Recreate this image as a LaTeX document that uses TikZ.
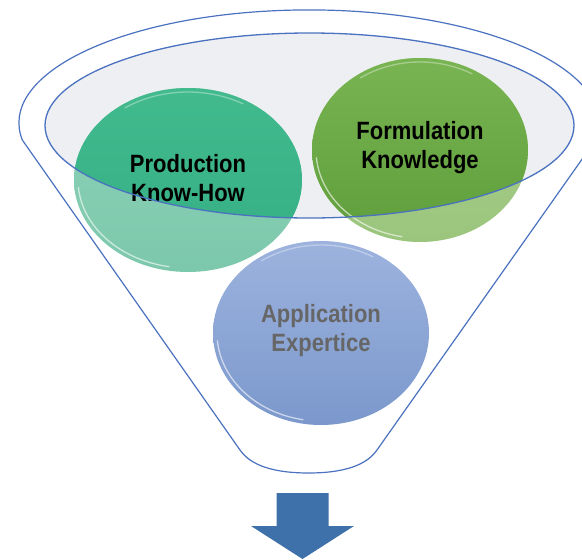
\documentclass[tikz,border=0pt]{standalone}
\usepackage{fontspec}
\newfontfamily\lblfont[FakeStretch=0.88]{Liberation Sans}
\usetikzlibrary{shapes.geometric}
\definecolor{lineblue}{HTML}{4A72C0}
\definecolor{ellfill}{HTML}{EDEFF2}
\definecolor{tealDa}{HTML}{42BA8E}
\definecolor{tealDb}{HTML}{34AE84}
\definecolor{tealLa}{HTML}{8FD2B8}
\definecolor{tealLb}{HTML}{7CC8AC}
\definecolor{grnDa}{HTML}{79B452}
\definecolor{grnDb}{HTML}{5E9E3B}
\definecolor{grnLa}{HTML}{ABCF8F}
\definecolor{grnLb}{HTML}{9BC57D}
\definecolor{bluA}{HTML}{9DB3DE}
\definecolor{bluB}{HTML}{7B98CC}
\definecolor{arrowblue}{HTML}{3E70AA}
\definecolor{greytext}{HTML}{666666}
\begin{document}
\begin{tikzpicture}[x=1pt,y=-1pt,
  funnelline/.style={draw=lineblue,line width=1.2pt,line join=round},
  bubble/.style={shape=ellipse,inner sep=0pt,align=center,
    font=\lblfont\bfseries\fontsize{25}{29}\selectfont},
  gloss/.style={draw=white,line width=1.3pt,opacity=0.6,line cap=round}]
\useasboundingbox (0,0) rectangle (582,560);
\clip (0,0) rectangle (582,560);
% funnel outline
\draw[funnelline,fill=white] (240,450) -- (22.3,140)
  arc[start angle=171.3,end angle=368.7,x radius=290,y radius=113]
  -- (377,450) .. controls (364,469) and (334,473) .. (308.5,473)
  .. controls (283,473) and (253,469) .. cycle;
% inner ellipse fill
\fill[ellfill] (309.5,125.5) ellipse[x radius=264.5,y radius=92.5];
% teal bubble
\shade[top color=tealLa,bottom color=tealLb] (188,180) ellipse[x radius=114,y radius=92];
\begin{scope}
  \clip (309.5,125.5) ellipse[x radius=264.5,y radius=92.5];
  \shade[top color=tealDa,bottom color=tealDb] (188,180) ellipse[x radius=114,y radius=92];
\end{scope}
% green bubble
\shade[top color=grnLa,bottom color=grnLb] (420,150) ellipse[x radius=108,y radius=92];
\begin{scope}
  \clip (309.5,125.5) ellipse[x radius=264.5,y radius=92.5];
  \shade[top color=grnDa,bottom color=grnDb] (420,150) ellipse[x radius=108,y radius=92];
\end{scope}
% blue bubble
\shade[top color=bluA,bottom color=bluB] (321,333) ellipse[x radius=108,y radius=92];
% gloss highlights (rim sheen)
\draw[gloss] (188,180) ++(100:110 and 88) arc[start angle=100,end angle=175,x radius=110,y radius=88];
\draw[gloss,opacity=0.35] (188,180) ++(235:110 and 88) arc[start angle=235,end angle=300,x radius=110,y radius=88];
\draw[gloss] (420,150) ++(100:104 and 88) arc[start angle=100,end angle=175,x radius=104,y radius=88];
\draw[gloss,opacity=0.35] (420,150) ++(235:104 and 88) arc[start angle=235,end angle=300,x radius=104,y radius=88];
\draw[gloss] (321,333) ++(100:104 and 88) arc[start angle=100,end angle=175,x radius=104,y radius=88];
\draw[gloss,opacity=0.35] (321,333) ++(235:104 and 88) arc[start angle=235,end angle=300,x radius=104,y radius=88];
% labels
\node[bubble,minimum width=228pt,minimum height=184pt,text=black] (prod) at (188,178) {Production\\Know-How};
\node[bubble,minimum width=216pt,minimum height=184pt,text=black] (form) at (420,148) {Formulation\\Knowledge};
\node[bubble,minimum width=216pt,minimum height=184pt,text=greytext] (appl) at (321,331) {Application\\Expertice};
% inner ellipse border
\draw[draw=lineblue,line width=1.3pt] (309.5,125.5) ellipse[x radius=264.5,y radius=92.5];
% arrow
\fill[arrowblue] (276.5,493) -- (328.5,493) -- (328.5,526) -- (354,526)
  -- (302.5,559) -- (251,526) -- (276.5,526) -- cycle;
\end{tikzpicture}
\end{document}
